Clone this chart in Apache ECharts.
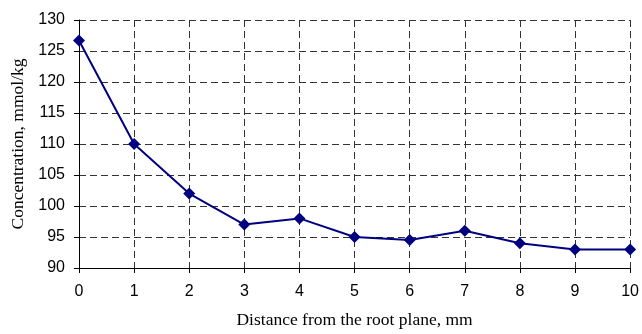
<!DOCTYPE html>
<html>
<head>
<meta charset="utf-8">
<script src="https://cdn.jsdelivr.net/npm/echarts@6/dist/echarts.min.js"></script>
<style>
  html, body { margin: 0; padding: 0; background: #fff; }
  #chart { width: 642px; height: 334px; }
</style>
</head>
<body>
<div id="chart"></div>
<script>
// distances (mm) and concentrations
const distances = ['0', '1', '2', '3', '4', '5', '6', '7', '8', '9', '10']
const concentration = [126.7, 110, 102, 97, 98, 95, 94.5, 96, 94, 93, 93]

let myChart = echarts.init(document.getElementById('chart'))

let option = {
  animation: false,
  grid: { left: 79, right: 11, top: 20, bottom: 65 },
  xAxis: {
    type: 'category',
    data: distances,
    boundaryGap: false,
    name: 'Distance from the root plane, mm',
    nameLocation: 'middle',
    nameGap: 43,
    nameTextStyle: { fontFamily: 'Liberation Serif', fontSize: 17.5, color: '#000' },
    axisLine: { lineStyle: { color: '#000', width: 1 } },
    axisTick: { show: true, length: 5, alignWithLabel: true, lineStyle: { color: '#000' } },
    axisLabel: { fontFamily: 'Liberation Sans', fontSize: 16, color: '#000', margin: 16 },
    splitLine: { show: true, lineStyle: { color: '#333', type: [7, 4], width: 1 } }
  },
  yAxis: {
    type: 'value',
    min: 90,
    max: 130,
    interval: 5,
    name: 'Concentration, mmol/kg',
    nameLocation: 'middle',
    nameGap: 52,
    nameTextStyle: { fontFamily: 'Liberation Serif', fontSize: 17.5, color: '#000' },
    axisLine: { show: true, lineStyle: { color: '#000', width: 1 } },
    axisTick: { show: true, length: 5, lineStyle: { color: '#000' } },
    axisLabel: { fontFamily: 'Liberation Sans', fontSize: 16, color: '#000', margin: 14 },
    splitLine: { show: true, lineStyle: { color: '#333', type: [7, 4], width: 1 } }
  },
  series: [
    {
      type: 'line',
      data: concentration,
      symbol: 'diamond',
      symbolSize: 12,
      itemStyle: { color: '#000080' },
      lineStyle: { color: '#000080', width: 2 }
    }
  ]
}
myChart.setOption(option)
</script>
</body>
</html>
